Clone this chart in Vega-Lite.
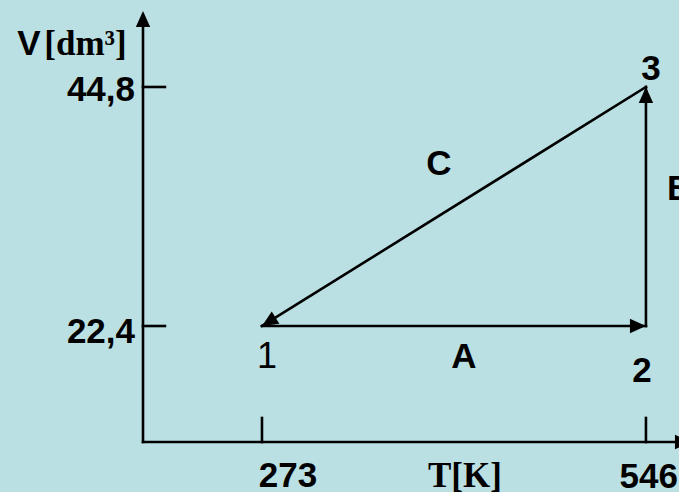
{
  "$schema": "https://vega.github.io/schema/vega-lite/v6.json",
  "width": 536,
  "height": 431,
  "autosize": "none",
  "padding": {"left": 143, "top": 11, "right": 0, "bottom": 50},
  "background": "#BBE0E3",
  "config": {"view": {"stroke": null}},
  "datasets": {
    "lines": [
      {"part": "y axis", "x": 188.4, "y": 11.53, "x2": 188.4, "y2": 51.0},
      {"part": "x axis", "x": 188.4, "y": 11.53, "x2": 578, "y2": 11.53},
      {"part": "tick 273", "x": 273, "y": 11.53, "x2": 273, "y2": 13.78},
      {"part": "tick 546", "x": 546, "y": 11.53, "x2": 546, "y2": 13.78},
      {"part": "tick 44.8", "x": 188.4, "y": 44.8, "x2": 204.0, "y2": 44.8},
      {"part": "tick 22.4", "x": 188.4, "y": 22.4, "x2": 204.0, "y2": 22.4},
      {"part": "A", "x": 273, "y": 22.4, "x2": 546, "y2": 22.4},
      {"part": "B", "x": 546, "y": 22.4, "x2": 546, "y2": 44.8},
      {"part": "C", "x": 546, "y": 44.8, "x2": 273, "y2": 22.4}
    ],
    "headsRight": [
      {"part": "A", "x": 546, "y": 22.4},
      {"part": "x axis", "x": 578, "y": 11.53}
    ],
    "headsUp": [
      {"part": "B", "x": 546, "y": 44.8},
      {"part": "y axis", "x": 188.4, "y": 51.92}
    ],
    "headsC": [
      {"part": "C", "x": 273, "y": 22.4}
    ],
    "sansBold": [
      {"label": "V", "x": 107.35, "y": 47.8},
      {"label": "44,8", "x": 158.5, "y": 43.49},
      {"label": "22,4", "x": 158.5, "y": 20.81},
      {"label": "273", "x": 291.5, "y": 7.31},
      {"label": "546", "x": 548, "y": 7.2},
      {"label": "A", "x": 416.6, "y": 18.46},
      {"label": "2", "x": 543.2, "y": 17.15},
      {"label": "3", "x": 549.6, "y": 45.45},
      {"label": "B", "x": 570, "y": 34.21},
      {"label": "C", "x": 398.8, "y": 36.55}
    ],
    "sansRegular": [
      {"label": "1", "x": 276.6, "y": 18.46}
    ],
    "serifBold": [
      {"label": "[dm³]", "x": 147.5, "y": 47.8},
      {"label": "T[K]", "x": 417.3, "y": 7.31}
    ]
  },
  "encoding": {
    "x": {"field": "x", "type": "quantitative", "scale": {"domain": [188.4, 569.5], "nice": false, "zero": false}, "axis": null},
    "y": {"field": "y", "type": "quantitative", "scale": {"domain": [11.53, 51.92], "nice": false, "zero": false}, "axis": null}
  },
  "layer": [
    {
      "data": {"name": "lines"},
      "mark": {"type": "rule", "color": "black", "strokeWidth": 2.6, "strokeCap": "square"},
      "encoding": {"x2": {"field": "x2"}, "y2": {"field": "y2"}}
    },
    {
      "data": {"name": "headsRight"},
      "mark": {"type": "point", "shape": "M0,0L-1,-0.45L-1,0.45Z", "size": 1024, "filled": true, "color": "black", "opacity": 1, "angle": 0, "strokeWidth": 0},
      "encoding": {}
    },
    {
      "data": {"name": "headsUp"},
      "mark": {"type": "point", "shape": "M0,0L-1,-0.45L-1,0.45Z", "size": 1024, "filled": true, "color": "black", "opacity": 1, "angle": 270, "strokeWidth": 0},
      "encoding": {}
    },
    {
      "data": {"name": "headsC"},
      "mark": {"type": "point", "shape": "M0,0L-1,-0.45L-1,0.45Z", "size": 1024, "filled": true, "color": "black", "opacity": 1, "angle": 148, "strokeWidth": 0},
      "encoding": {}
    },
    {
      "data": {"name": "sansBold"},
      "mark": {"type": "text", "font": "Liberation Sans", "fontWeight": "bold", "fontSize": 35, "align": "center", "baseline": "alphabetic", "color": "black"},
      "encoding": {"text": {"field": "label"}}
    },
    {
      "data": {"name": "sansRegular"},
      "mark": {"type": "text", "font": "Liberation Sans", "fontWeight": "normal", "fontSize": 36, "align": "center", "baseline": "alphabetic", "color": "black"},
      "encoding": {"text": {"field": "label"}}
    },
    {
      "data": {"name": "serifBold"},
      "mark": {"type": "text", "font": "Liberation Serif", "fontWeight": "bold", "fontSize": 35, "align": "center", "baseline": "alphabetic", "color": "black"},
      "encoding": {"text": {"field": "label"}}
    }
  ]
}
